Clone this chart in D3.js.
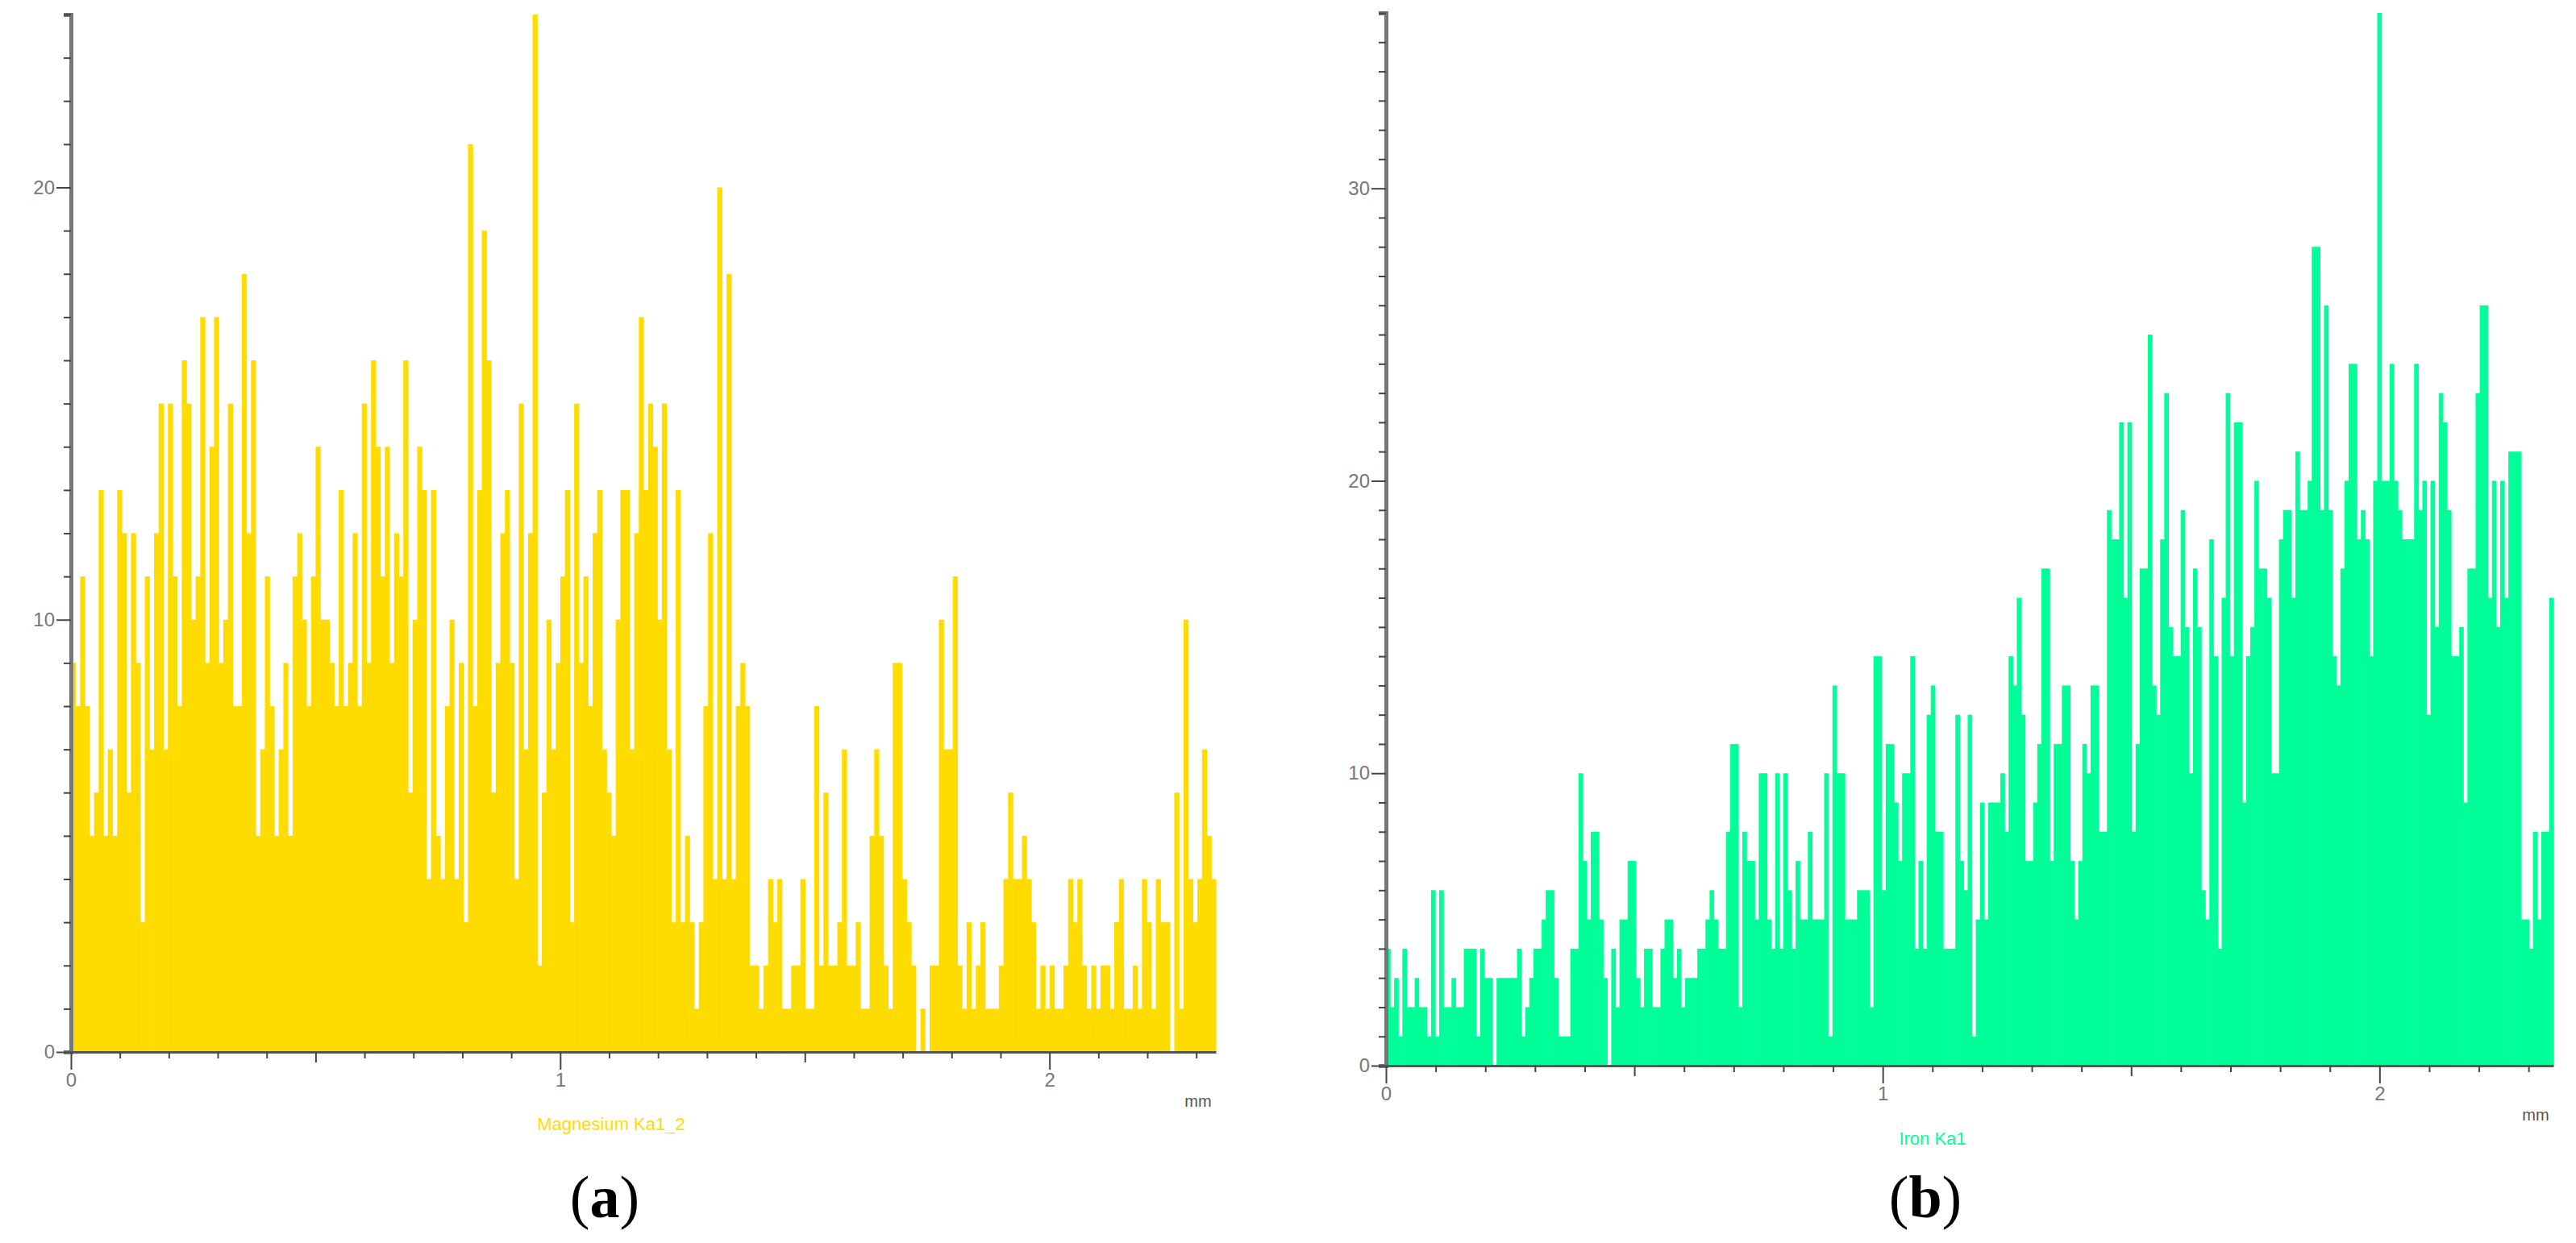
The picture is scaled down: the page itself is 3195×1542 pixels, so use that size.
<!DOCTYPE html>
<html>
<head>
<meta charset="utf-8">
<script src="https://cdn.jsdelivr.net/npm/d3@7"></script>
<style>
  body { margin: 0; background: #fff; }
  text { font-family: "Liberation Sans", Arial, sans-serif; }
  text.cap { font-family: "Liberation Serif", "Times New Roman", serif; }
</style>
</head>
<body>
<div id="chart"></div>
<script>
// Magnesium Ka1_2 line scan counts (panel a), left to right
var mgCounts = [9,8,11,8,5,6,13,5,7,5,13,12,6,12,9,3,11,7,12,15,7,15,11,8,16,15,10,11,17,9,14,17,9,10,15,8,8,18,12,16,5,7,11,8,5,7,9,5,11,12,10,8,11,14,10,10,9,8,13,8,9,12,8,15,9,16,14,11,14,9,12,11,16,6,10,14,13,4,13,5,4,8,
  10,4,9,3,21,8,13,19,16,6,9,12,13,9,4,15,7,12,24,2,6,10,7,9,11,13,3,15,9,11,8,12,13,7,6,5,10,13,13,7,12,17,13,15,14,10,15,7,3,13,3,5,3,1,3,8,12,4,20,4,18,4,8,9,8,2,2,1,2,4,3,4,1,1,2,2,4,1,1,8,2,6,
  2,2,3,7,2,2,3,1,1,5,7,5,2,1,9,9,4,3,2,0,1,0,2,2,10,7,7,11,2,1,3,1,2,3,1,1,1,2,4,6,4,4,5,4,3,1,2,1,2,1,1,2,4,3,4,2,1,2,1,2,2,1,3,4,1,1,2,1,4,3,1,4,3,3,0,6,1,10,4,3,4,7,5,4];

// Iron Ka1 line scan counts (panel b), left to right
var feCounts = [4,2,3,1,4,2,2,3,2,2,1,6,1,6,2,2,3,2,2,4,4,4,1,4,3,3,0,3,3,3,3,3,4,1,2,3,4,4,5,6,6,3,1,1,1,4,4,10,7,5,8,8,5,3,0,4,2,5,5,7,7,3,2,4,4,2,2,4,5,5,3,4,2,3,3,3,4,4,5,6,5,4,4,8,11,11,2,8,7,7,5,10,10,5,4,10,
  4,10,6,4,7,5,5,8,5,5,5,10,1,13,10,10,5,5,5,6,6,6,2,14,14,6,11,11,9,7,10,10,14,4,7,4,12,13,8,8,4,4,4,12,7,6,12,1,5,9,5,9,9,9,10,8,14,13,16,12,7,7,9,11,17,17,7,11,11,13,13,7,5,7,11,10,13,13,8,8,19,18,18,22,16,22,8,11,17,17,25,13,12,18,23,
  15,14,14,19,15,10,17,15,6,5,18,14,4,16,23,14,22,22,9,14,15,20,17,17,16,10,10,18,19,19,16,21,19,19,20,28,28,19,26,19,14,13,17,20,24,24,18,19,18,14,20,36,20,20,24,20,19,18,18,18,24,19,20,12,20,15,23,22,19,14,14,15,9,17,17,23,26,26,16,20,15,20,16,21,21,21,5,5,4,8,5,8,8,16];

var xTickLabels = [0, 1, 2];
var mgYTickLabels = [0, 10, 20];
var feYTickLabels = [0, 10, 20, 30];

var svgWidth = 3195, svgHeight = 1542;

var svg = d3.select("#chart")
  .append("svg")
  .attr("width", svgWidth)
  .attr("height", svgHeight);

// draw one line-scan panel
function drawPanel(opts) {
  var x = d3.scaleLinear().domain([0, opts.xMax]).range([opts.left, opts.right]);
  var y = d3.scaleLinear().domain([0, opts.yMax]).range([opts.bottom, opts.top]);
  var step = opts.xMax / opts.data.length;
  var g = svg.append("g");

  // bars
  g.selectAll("rect.bar")
    .data(opts.data)
    .enter()
    .append("rect")
    .attr("class", "bar")
    .attr("x", (d, i) => x(i * step))
    .attr("width", x(step) - x(0) + 0.6)
    .attr("y", d => y(d))
    .attr("height", d => y(0) - y(d))
    .attr("fill", opts.color);

  // y axis: minor tick every unit, labels every 10
  var yAxis = d3.axisLeft(y)
    .tickValues(d3.range(0, opts.yMax + 1, 1))
    .tickSize(9)
    .tickFormat(d => opts.yLabels.includes(d) ? d : "");
  var ya = g.append("g")
    .attr("transform", `translate(${opts.left},0)`)
    .call(yAxis);
  ya.select(".domain").attr("stroke", "#777").attr("stroke-width", 5);
  ya.selectAll(".tick line").attr("stroke", "#444").attr("stroke-width", 2)
    .attr("x2", d => opts.yLabels.includes(d) ? -18 : -9);
  ya.selectAll(".tick text").attr("fill", "#777").attr("font-size", 24).attr("x", -20);

  // x axis: ticks every 0.1 mm, labels at whole mm
  var xAxis = d3.axisBottom(x)
    .tickValues(d3.range(0, Math.floor(opts.xMax * 10) + 1).map(k => k / 10))
    .tickSizeOuter(0)
    .tickFormat(d => xTickLabels.includes(Math.round(d * 10) / 10) ? d : "");
  var xa = g.append("g")
    .attr("transform", `translate(0,${opts.bottom})`)
    .call(xAxis);
  xa.select(".domain").attr("stroke", "#555").attr("stroke-width", 3);
  xa.selectAll(".tick line").attr("stroke", "#444").attr("stroke-width", 2)
    .attr("y2", d => {
      var k = Math.round(d * 10);
      return k % 10 === 0 ? 22 : (k % 5 === 0 ? 13 : 8);
    });
  xa.selectAll(".tick text").attr("fill", "#777").attr("font-size", 24).attr("y", 26);

  g.append("text")
    .attr("x", opts.right - 22)
    .attr("y", opts.bottom + 68)
    .attr("text-anchor", "middle")
    .attr("font-size", 20)
    .attr("fill", "#555")
    .text("mm");

  g.append("text")
    .attr("x", opts.labelX)
    .attr("y", opts.labelY)
    .attr("text-anchor", "middle")
    .attr("font-size", 22)
    .attr("fill", opts.color)
    .text(opts.label);

  var cap = g.append("text")
    .attr("class", "cap")
    .attr("x", opts.capX)
    .attr("y", 1510)
    .attr("text-anchor", "middle")
    .attr("font-size", 74)
    .attr("fill", "#000");
  cap.append("tspan").text("(");
  cap.append("tspan").attr("font-weight", "bold").text(opts.cap);
  cap.append("tspan").text(")");
}

drawPanel({
  data: mgCounts, color: "#ffdc00", xMax: 2.34, yMax: 24,
  left: 88, right: 1508, top: 18, bottom: 1305,
  yLabels: mgYTickLabels, label: "Magnesium Ka1_2", labelX: 758, labelY: 1402,
  cap: "a", capX: 750
});

drawPanel({
  data: feCounts, color: "#00ff99", xMax: 2.35, yMax: 36,
  left: 1719, right: 3167, top: 16, bottom: 1322,
  yLabels: feYTickLabels, label: "Iron Ka1", labelX: 2397, labelY: 1420,
  cap: "b", capX: 2388
});
</script>
</body>
</html>
